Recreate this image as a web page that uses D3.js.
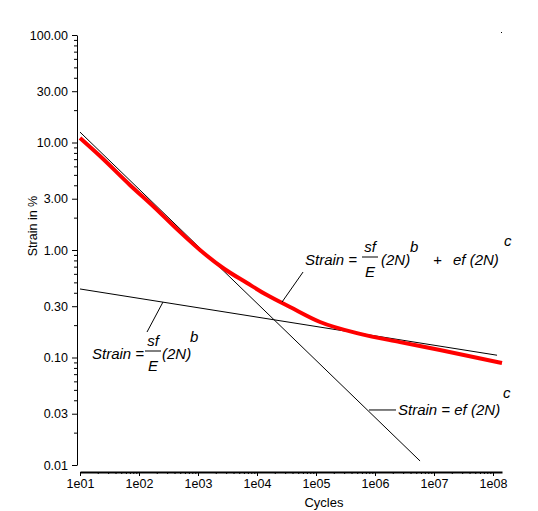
<!DOCTYPE html>
<html>
<head>
<meta charset="utf-8">
<script src="https://cdn.jsdelivr.net/npm/d3@7"></script>
<style>
body { margin: 0; background: #fff; }
text { font-family: "Liberation Sans", Arial, sans-serif; }
.eq text { font-size: 15px; font-style: italic; }
</style>
</head>
<body>
<script>
// measured strain-life curve (red)
var cycles = [10, 21.8, 70, 180, 458, 1081, 2655, 6776, 14770, 36240, 116900, 557000, 2650000, 12600000, 142000000];
var strainMeasured = [11.0, 7.48, 4.03, 2.51, 1.53, 1.00, 0.68, 0.493, 0.381, 0.295, 0.214, 0.166, 0.139, 0.1175, 0.0889];

// elastic and plastic straight lines (log-log)
var elasticN = [10, 117000000];
var elasticStrain = [0.434, 0.105];
var plasticN = [10, 5800000];
var plasticStrain = [12.5, 0.0109];

var yMajor = [100, 30, 10, 3, 1, 0.3, 0.1, 0.03, 0.01];
var xMajor = [1e1, 1e2, 1e3, 1e4, 1e5, 1e6, 1e7, 1e8];

// leader lines for the equations: [[N, strain], [N, strain]]
var leaderTotal = [[60300, 0.624], [26550, 0.328]];
var leaderElastic = [[136.7, 0.1726], [255, 0.328]];
var leaderPlastic = [[790000, 0.0325], [2270000, 0.0325]];

var W = 538, H = 511;
var svg = d3.select("body").append("svg").attr("width", W).attr("height", H);

var x = d3.scaleLog().domain([10, 142000000]).range([80, 502]);
var y = d3.scaleLog().domain([0.01, 100]).range([465, 35]);

// minor ticks
var yMinor = [];
[0.01, 0.1, 1, 10].forEach(function(d){
    [2, 4, 5, 6, 7, 8, 9].forEach(function(m){ yMinor.push(d*m); });
});
var xMinor = [];
xMajor.forEach(function(d){
    [2, 3, 4, 5, 6, 7, 8, 9].forEach(function(m){ if (d*m <= 142000000) xMinor.push(d*m); });
});

var fmtY = function(d){ return d3.format(".2f")(d); };
var fmtX = function(d){ var e = Math.round(Math.log10(d)); return "1e" + (e < 10 ? "0" : "") + e; };

// y axis
var gy = svg.append("g").attr("transform", "translate(77,0)");
gy.call(d3.axisLeft(y).tickValues(yMajor).tickFormat(fmtY).tickSize(5).tickSizeOuter(0).tickPadding(4));
gy.append("g").call(d3.axisLeft(y).tickValues(yMinor).tickFormat("").tickSize(3).tickSizeOuter(0))
  .select(".domain").remove();

// x axis
var gx = svg.append("g").attr("transform", "translate(0,472)");
gx.call(d3.axisBottom(x).tickValues(xMajor).tickFormat(fmtX).tickSize(4).tickSizeOuter(0).tickPadding(3));
gx.append("g").call(d3.axisBottom(x).tickValues(xMinor).tickFormat("").tickSize(2).tickSizeOuter(0))
  .select(".domain").remove();
gx.select(".domain").attr("stroke-width", 2);

svg.selectAll(".tick text").attr("font-size", 12.5).attr("fill", "#000")
   .attr("font-family", "'Liberation Sans', Arial, sans-serif");
svg.selectAll(".tick line, .domain").attr("stroke", "#000");

// corner mark
svg.append("rect").attr("x", x(142000000) - 1).attr("y", 32).attr("width", 1).attr("height", 1).attr("fill", "#000");

// axis titles
svg.append("text").attr("x", 324).attr("y", 507).attr("text-anchor", "middle")
   .attr("font-size", 13).text("Cycles");
svg.append("text").attr("transform", "translate(37,226) rotate(-90)").attr("text-anchor", "middle")
   .attr("font-size", 12.5).text("Strain in %");

var line = d3.line().x(function(d){ return x(d[0]); }).y(function(d){ return y(d[1]); });

// straight lines
svg.append("path").attr("d", line(d3.zip(elasticN, elasticStrain)))
   .attr("fill", "none").attr("stroke", "#000").attr("stroke-width", 1);
svg.append("path").attr("d", line(d3.zip(plasticN, plasticStrain)))
   .attr("fill", "none").attr("stroke", "#000").attr("stroke-width", 1);

// measured curve
svg.append("path").attr("d", line.curve(d3.curveMonotoneX)(d3.zip(cycles, strainMeasured)))
   .attr("fill", "none").attr("stroke", "#ff0000").attr("stroke-width", 4)
   .attr("stroke-linejoin", "round");
line.curve(d3.curveLinear);

// leaders
[leaderTotal, leaderElastic, leaderPlastic].forEach(function(l){
    svg.append("path").attr("d", line(l)).attr("fill", "none").attr("stroke", "#000").attr("stroke-width", 1);
});

// equations
function txt(g, tx, ty, s, anchor){
    return g.append("text").attr("x", tx).attr("y", ty).attr("text-anchor", anchor || "start").text(s);
}
function frac(g, cx, ty){
    txt(g, cx, ty - 13, "sf", "middle");
    g.append("line").attr("x1", cx - 8).attr("x2", cx + 8).attr("y1", ty - 8).attr("y2", ty - 8)
     .attr("stroke", "#000");
    txt(g, cx, ty + 12, "E", "middle");
}

var eq1 = svg.append("g").attr("class", "eq").attr("transform", "translate(305,265)");
txt(eq1, 0, 0, "Strain =");
frac(eq1, 65, 0);
txt(eq1, 76, 0, "(2N)");
txt(eq1, 105, -13, "b");
txt(eq1, 128, 0, "+");
txt(eq1, 148, 0, "ef (2N)");
txt(eq1, 199, -19, "c");

var eq2 = svg.append("g").attr("class", "eq").attr("transform", "translate(92,359)");
txt(eq2, 0, 0, "Strain =");
frac(eq2, 61, 0);
txt(eq2, 70, 0, "(2N)");
txt(eq2, 98, -17, "b");

var eq3 = svg.append("g").attr("class", "eq").attr("transform", "translate(398,415)");
txt(eq3, 0, 0, "Strain = ef (2N)");
txt(eq3, 105, -17, "c");
</script>
</body>
</html>
